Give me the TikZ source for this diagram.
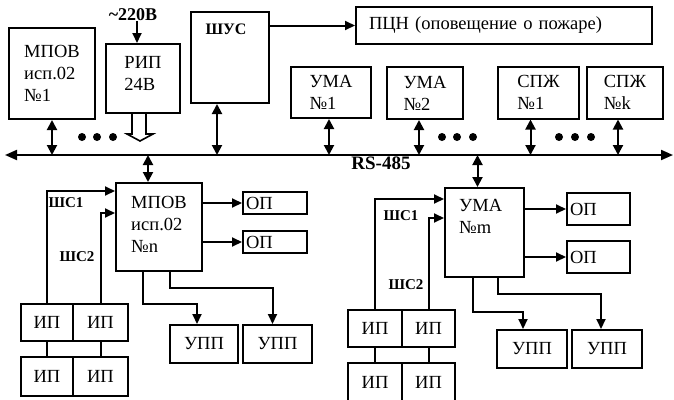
\documentclass[tikz,border=0pt]{standalone}
\usepackage{fontspec}
\setmainfont{Liberation Serif}
\usetikzlibrary{arrows.meta,positioning,calc}

\begin{document}
\begin{tikzpicture}[
  x=1pt,y=-1pt,
  sz/.style 2 args={minimum width=#1pt,minimum height=#2pt},
  box/.style={draw,line width=2pt,inner sep=0pt,align=left,font=\fontsize{18.5}{22}\selectfont},
  lbox/.style={box,inner xsep=3pt,inner ysep=0pt},
  txt/.style={inner sep=0pt,align=left,font=\fontsize{18.5}{22}\selectfont},
  lbl/.style={inner sep=0pt,font=\fontsize{15}{18}\selectfont\bfseries},
  wire/.style={line width=2pt},
  arr/.style={wire,-{Triangle[length=10pt,width=9pt]}},
  darr/.style={wire,{Triangle[length=10pt,width=10pt]}-{Triangle[length=10pt,width=10pt]}}
]
  \useasboundingbox (0,0) rectangle (674,399);
  % Upper row of devices
  \node[box,sz={86}{91}] (mpova) at (52,73.5) {МПОВ\\исп.02\\№1};
  \node[box,sz={74}{69},text depth=10pt] (rip) at (143,78.5) {РИП\\24В};
  \node[lbl,font=\fontsize{18}{20}\selectfont\bfseries] (v220) at (133,15) {\textasciitilde220В};
  \node[box,sz={78}{91}] (shus) at (230,57.5) {};
  \node[lbl,font=\fontsize{16}{18}\selectfont\bfseries] (shuslbl) at ([xshift=-4pt,yshift=-18pt]shus.north) {ШУС};
  \node[lbox,text width=270pt,inner xsep=13pt,sz={296}{37}] (pcn) at (504,25.5) {ПЦН (оповещение о пожаре)};
  \node[box,sz={80}{51}] (umaa) at (331,92.5) {УМА\\№1};
  \node[box,sz={76}{52}] (umab) at (425,93) {УМА\\№2};
  \node[box,sz={81}{52}] (spza) at (538.5,92.5) {СПЖ\\№1};
  \node[box,sz={76}{52}] (spzk) at (625,92.5) {СПЖ\\№k};
  % RS-485 bus
  \coordinate (busl) at (5,155);
  \coordinate (busr) at (673,155);
  \draw[wire,{Triangle[length=12pt,width=10pt]}-{Triangle[length=12pt,width=10pt]}] (busl) -- (busr);
  \node[lbl,font=\fontsize{19}{20}\selectfont\bfseries] (rs) at (381,163) {RS-485};
  \foreach \dx in {82,97,113,442,457,473,559,575,591}
    \fill (\dx,137) circle (4pt);
  % Power and upper links
  \draw[arr] ([xshift=4pt]v220.south) -- ([xshift=4pt]v220.south |- rip.north);
  \begin{scope}[shift={(rip.south)}]
    \draw[line width=1.6pt] (-11,0) -- (-11,20) -- (-16,20) -- (-3,27) -- (10,20) -- (3,20) -- (3,0);
  \end{scope}
  \draw[arr] (shus.east |- pcn.west) -- (pcn.west);
  \draw[darr] (mpova.south) -- (mpova.south |- busl);
  \draw[darr] ([xshift=-13pt]shus.south) -- ([xshift=-13pt]shus.south |- busl);
  \draw[darr] ([xshift=-2pt]umaa.south) -- ([xshift=-2pt]umaa.south |- busl);
  \draw[darr] ([xshift=-6pt]umab.south) -- ([xshift=-6pt]umab.south |- busl);
  \draw[darr] ([xshift=-8pt]spza.south) -- ([xshift=-8pt]spza.south |- busl);
  \draw[darr] ([xshift=-7pt]spzk.south) -- ([xshift=-7pt]spzk.south |- busl);
  % Lower left: МПОВ №n
  \node[box,sz={86}{88},text depth=6pt] (mpovn) at (159,227) {МПОВ\\исп.02\\№n};
  \draw[darr] ([xshift=-11pt]mpovn.north |- busl) -- ([xshift=-11pt]mpovn.north);
  \node[lbox,text width=58pt,sz={64}{22}] (opa) at (275,203) {ОП};
  \node[lbox,text width=58pt,sz={64}{22}] (opb) at (275,242) {ОП};
  \draw[arr] (mpovn.east |- opa.west) -- (opa.west);
  \draw[arr] (mpovn.east |- opb.west) -- (opb.west);
  \node[box,sz={68}{38}] (uppa) at (204,344) {УПП};
  \node[box,sz={69}{38}] (uppb) at (277.5,344) {УПП};
  \draw[arr] ([xshift=-16pt]mpovn.south) -- ++(0,32) -| ([xshift=-7pt]uppa.north);
  \draw[arr] ([xshift=11pt]mpovn.south) -- ++(0,16) -| ([xshift=-5pt]uppb.north);
  \node[box,sz={52}{37}] (ipa) at (47,322.5) {ИП};
  \node[box,sz={55}{37}] (ipb) at (100.5,322.5) {ИП};
  \node[box,sz={52}{39}] (ipc) at (47,376.5) {ИП};
  \node[box,sz={55}{39}] (ipd) at (100.5,376.5) {ИП};
  \draw[arr] (ipa.north) |- ([yshift=-9pt]mpovn.north west);
  \draw[arr] (ipb.north) |- ([yshift=-31pt]mpovn.north west);
  \draw[wire] (ipa.south) -- (ipc.north);
  \draw[wire] (ipb.south) -- (ipd.north);
  \node[lbl] (shsa) at (66,203) {ШС1};
  \node[lbl] (shsb) at (77,257) {ШС2};
  % Lower right: УМА №m
  \node[box,sz={79}{89}] (umam) at (484.5,232.5) {};
  \node[txt,anchor=north west] (umamtxt) at ([xshift=15pt,yshift=-12pt]umam.north west) {УМА\\№m};
  \draw[darr] ([xshift=-7pt]umam.north |- busl) -- ([xshift=-7pt]umam.north);
  \node[lbox,text width=57pt,sz={63}{32}] (opc) at (598.5,209) {ОП};
  \node[lbox,text width=57pt,sz={63}{32}] (opd) at (598.5,257) {ОП};
  \draw[arr] (umam.east |- opc.west) -- (opc.west);
  \draw[arr] (umam.east |- opd.west) -- (opd.west);
  \node[box,sz={70}{38}] (uppc) at (532,349) {УПП};
  \node[box,sz={70}{38}] (uppd) at (607,349) {УПП};
  \draw[arr] ([xshift=-11.5pt]umam.south) -- ++(0,34) -| ([xshift=-9pt]uppc.north);
  \draw[arr] ([xshift=13.5pt]umam.south) -- ++(0,16) -| ([xshift=-6pt]uppd.north);
  \node[box,sz={54}{37}] (ipe) at (375,328.5) {ИП};
  \node[box,sz={53}{37}] (ipf) at (428.5,328.5) {ИП};
  \node[box,sz={54}{38}] (ipg) at (375,382) {ИП};
  \node[box,sz={53}{38}] (iph) at (428.5,382) {ИП};
  \draw[arr] (ipe.north) |- ([yshift=-12pt]umam.north west);
  \draw[arr] (ipf.north) |- ([yshift=-31pt]umam.north west);
  \draw[wire] (ipe.south) -- (ipg.north);
  \draw[wire] (ipf.south) -- (iph.north);
  \node[lbl] (shsc) at (401,216) {ШС1};
  \node[lbl] (shsd) at (406,285) {ШС2};
\end{tikzpicture}
\end{document}
